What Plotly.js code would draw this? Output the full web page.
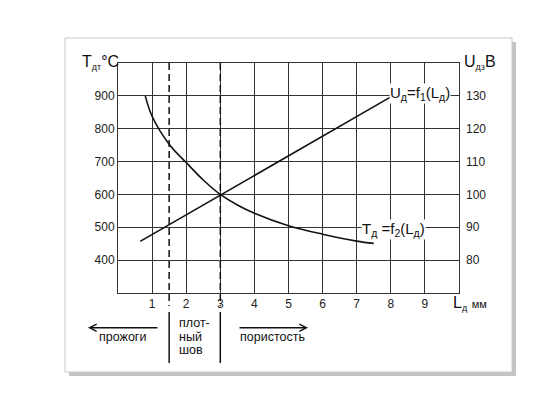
<!DOCTYPE html>
<html>
<head>
<meta charset="utf-8">
<script src="https://cdn.plot.ly/plotly-3.0.1.min.js"></script>
<style>html,body{margin:0;padding:0;background:#fff;}#chart{width:555px;height:396px;}</style>
</head>
<body>
<div id="chart"></div>
<script>
// Data
const lenU = [0.65, 8.0];            // L_д, mm
const voltU = [85.7, 129.7];         // U_дз, V (right axis)
const lenT = [0.8, 1.0, 1.5, 2.0, 2.5, 3.0, 3.5, 4.0, 5.0, 6.0, 7.0, 7.5];
const tempT = [900, 838, 753, 697, 644, 600, 568, 543, 505, 479, 458, 451]; // T_дт, °C
const xTicks = [1, 2, 3, 4, 5, 6, 7, 8, 9];
const yTicks = [400, 500, 600, 700, 800, 900];
const y2Ticks = [80, 90, 100, 110, 120, 130];
const zoneBounds = [1.5, 3];
const leftZone = 'прожоги';
const midZoneLines = ['плот-', 'ный', 'шов'];
const rightZone = 'пористость';

const FONT = 'Liberation Sans, Arial, sans-serif';
const L = 118, R = 459, T = 63, B = 293;
const px = v => (v - L) / (R - L);
const py = v => (B - v) / (B - T);
const SUB = s => '<sub><span style="font-size:9px">' + s + '</span></sub>';

const traces = [
  {x: lenT, y: tempT, type: 'scatter', mode: 'lines', line: {color: '#111', width: 1.6, shape: 'spline', smoothing: 1}, xaxis: 'x', yaxis: 'y', hoverinfo: 'skip'},
  {x: lenU, y: voltU, type: 'scatter', mode: 'lines', line: {color: '#111', width: 1.6}, xaxis: 'x', yaxis: 'y2', hoverinfo: 'skip'}
];

const shapes = [
  {type: 'rect', xref: 'paper', yref: 'paper', x0: px(69), x1: px(516), y0: py(376), y1: py(42), fillcolor: '#c4c4c4', line: {width: 0}, layer: 'below'},
  {type: 'rect', xref: 'paper', yref: 'paper', x0: px(65), x1: px(512), y0: py(372), y1: py(38), fillcolor: '#ffffff', line: {color: '#c8c8c8', width: 1}, layer: 'below'}
];
zoneBounds.forEach(b => {
  shapes.push({type: 'line', xref: 'x', yref: 'paper', x0: b, x1: b, y0: 1, y1: py(306), line: {color: '#111', width: 1.5, dash: '7px,4px'}});
  shapes.push({type: 'line', xref: 'x', yref: 'paper', x0: b, x1: b, y0: py(312), y1: py(363), line: {color: '#111', width: 1.5}});
});

const txt = (x, y, text, size, extra) => Object.assign({xref: 'paper', yref: 'paper', x: px(x), y: py(y), xanchor: 'center', yanchor: 'middle',
  showarrow: false, text: text, font: {size: size, color: '#111'}}, extra || {});

const annotations = [
  txt(80, 62, 'T' + SUB('дт') + '°C', 16, {xanchor: 'left'}),
  txt(462, 62, 'U' + SUB('дз') + 'B', 16, {xanchor: 'left'}),
  txt(451, 303, 'L' + SUB('д') + ' <span style="font-size:11px">мм</span>', 16, {xanchor: 'left'}),
  {xref: 'x', yref: 'y', x: 8.86, y: 908, showarrow: false, bgcolor: '#fff', borderpad: 0,
   text: 'U<sub>д</sub>=f<sub>1</sub>(L<sub>д</sub>)', font: {size: 15, color: '#111'}},
  {xref: 'x', yref: 'y', x: 8.08, y: 493, showarrow: false, bgcolor: '#fff', borderpad: 0,
   text: 'T<sub>д</sub> =f<sub>2</sub>(L<sub>д</sub>)', font: {size: 15, color: '#111'}},
  txt(122, 337, leftZone, 12.5),
  txt(177, 323, midZoneLines[0], 12.5, {xanchor: 'left'}),
  txt(177, 336.5, midZoneLines[1], 12.5, {xanchor: 'left'}),
  txt(177, 350, midZoneLines[2], 12.5, {xanchor: 'left'}),
  txt(272, 337, rightZone, 12.5),
  {xref: 'paper', yref: 'paper', x: px(88), y: py(327.7), text: '', showarrow: true, ax: 71, ay: 0, arrowhead: 5, arrowsize: 1, arrowwidth: 1.4, arrowcolor: '#111'},
  {xref: 'paper', yref: 'paper', x: px(308), y: py(327.7), text: '', showarrow: true, ax: -70, ay: 0, arrowhead: 5, arrowsize: 1, arrowwidth: 1.4, arrowcolor: '#111'}
];

const layout = {
  width: 555, height: 396,
  margin: {l: L, r: 555 - R, t: T, b: 396 - B, pad: 0},
  paper_bgcolor: '#fff', plot_bgcolor: 'rgba(0,0,0,0)',
  font: {family: FONT, size: 12, color: '#222'},
  showlegend: false,
  xaxis: {range: [0, 10], tickvals: xTicks, ticktext: xTicks.map(String), showgrid: true, gridcolor: '#333', gridwidth: 1,
          zeroline: false, showline: true, linecolor: '#333', linewidth: 1, mirror: true, ticks: '', tickfont: {size: 12, color: '#222'}},
  yaxis: {range: [300, 1000], tickvals: yTicks, ticktext: yTicks.map(String), showgrid: true, gridcolor: '#333', gridwidth: 1,
          zeroline: false, showline: true, linecolor: '#333', linewidth: 1, mirror: true, ticks: '', tickfont: {size: 12, color: '#222'}},
  yaxis2: {range: [70, 140], overlaying: 'y', side: 'right', tickvals: y2Ticks, ticktext: y2Ticks.map(String), showgrid: false,
           zeroline: false, showline: false, ticks: '', ticklabelstandoff: 6, tickfont: {size: 12, color: '#222'}},
  shapes: shapes,
  annotations: annotations
};

Plotly.newPlot('chart', traces, layout, {staticPlot: true, displayModeBar: false});
</script>
</body>
</html>
